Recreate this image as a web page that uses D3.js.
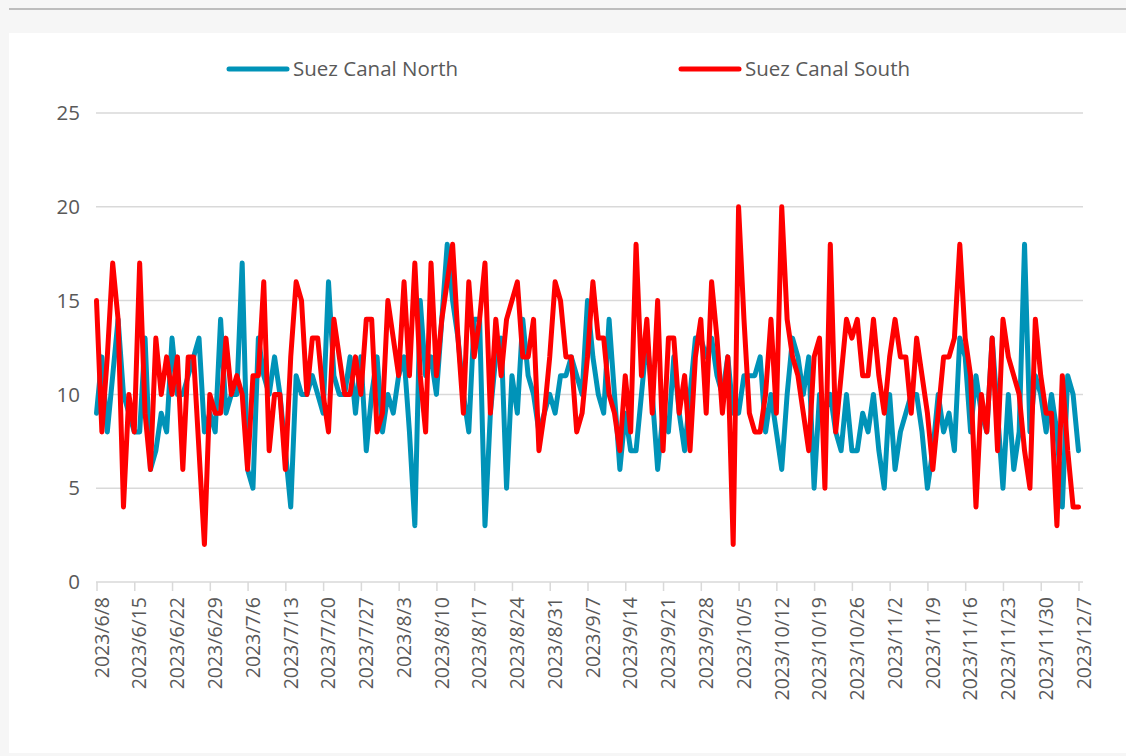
<!DOCTYPE html>
<html><head><meta charset="utf-8">
<script src="https://cdn.jsdelivr.net/npm/d3@7"></script>
<style>
html,body{margin:0;padding:0;background:#f6f6f6;}
svg{display:block;font-family:"Open Sans",sans-serif;}
</style></head>
<body><svg id="c" width="1126" height="756"></svg>
<script>
const startDate = "2023-06-08";
const endDate = "2023-12-07";
const seriesNames = ["Suez Canal North", "Suez Canal South"];
const north = [9,12,8,11,14,10,9,8,8,13,6,7,9,8,13,10,10,11,12,13,8,9,8,14,9,10,10,17,6,5,13,11,10,12,10,7,4,11,10,10,11,10,9,16,11,10,10,12,9,12,7,10,12,8,10,9,11,12,8,3,15,11,12,10,14,18,15,13,10,8,14,14,3,9,12,13,5,11,9,14,11,10,8,9,10,9,11,11,12,11,10,15,12,10,9,14,10,6,9,7,7,10,13,10,6,9,8,12,9,7,10,13,13,12,13,11,10,12,9,9,11,11,11,12,8,10,8,6,10,13,12,10,12,5,10,9,10,8,7,10,7,7,9,8,10,7,5,10,6,8,9,10,10,8,5,7,10,8,9,7,13,12,8,11,9,8,13,9,5,10,6,8,18,8,11,10,8,10,8,4,11,10,7];
const south = [15,8,12,17,14,4,10,8,17,9,6,13,10,12,10,12,6,12,12,7,2,10,9,9,13,10,11,10,6,11,11,16,7,10,10,6,12,16,15,10,13,13,10,8,14,12,10,10,12,10,14,14,8,9,15,13,11,16,11,17,11,8,17,11,14,16,18,13,9,16,12,14,17,9,14,11,14,15,16,12,12,14,7,9,12,16,15,12,12,8,9,12,16,13,13,10,9,7,11,8,18,11,14,9,15,7,13,13,9,11,7,12,14,9,16,13,9,12,2,20,14,9,8,8,10,14,9,20,14,12,11,9,7,12,13,5,18,8,11,14,13,14,11,11,14,11,9,12,14,12,12,9,13,11,9,6,9,12,12,13,18,13,11,4,10,8,13,7,14,12,11,10,7,5,14,11,9,9,3,11,7,4,4];
const yTicks = [0,5,10,15,20,25];
const colors = ["#0093b8", "#ff0000"];

const parse = d3.timeParse("%Y-%m-%d");
const t0 = parse(startDate), t1 = parse(endDate);
const dates = d3.timeDay.range(t0, d3.timeDay.offset(t1, 1));
const tickDates = d3.range(0, dates.length, 7).map(i => dates[i]);
const fmt = d3.timeFormat("%Y/%-m/%-d");

const svg = d3.select("#c");
svg.append("rect").attr("x", 9).attr("y", 8).attr("width", 1117).attr("height", 2).attr("fill", "#bdbdbd");
svg.append("rect").attr("x", 9).attr("y", 33).attr("width", 1117).attr("height", 720).attr("fill", "#ffffff");

const x = d3.scaleTime().domain([t0, t1]).range([96.5, 1078.5]);
const y = d3.scaleLinear().domain([0, 25]).range([582, 113]);

svg.append("g").selectAll("line").data(yTicks.filter(v => v > 0)).join("line")
  .attr("x1", 96).attr("x2", 1083)
  .attr("y1", d => y(d)).attr("y2", d => y(d))
  .attr("stroke", "#d9d9d9").attr("stroke-width", 1.5);

svg.append("g").selectAll("text").data(yTicks).join("text")
  .attr("x", 80).attr("y", d => y(d)).attr("dy", "0.35em")
  .attr("text-anchor", "end").attr("font-size", 20.5).attr("fill", "#595959")
  .text(d => d);

const xAxis = d3.axisBottom(x).tickValues(tickDates).tickSize(9).tickFormat(fmt);
const gx = svg.append("g").attr("transform", "translate(0,582)").call(xAxis);
gx.select(".domain").attr("stroke", "#d9d9d9").attr("stroke-width", 1.5).attr("d", "M96,0H1083");
gx.selectAll(".tick line").attr("stroke", "#d9d9d9").attr("stroke-width", 1.5);
gx.selectAll(".tick text")
  .attr("font-family", "'Open Sans',sans-serif").attr("font-size", 19.5).attr("fill", "#595959")
  .attr("text-anchor", "end").attr("transform", "rotate(-90)")
  .attr("x", -15).attr("y", 0).attr("dy", "0.6em");

const line = d3.line().x((d, i) => x(dates[i])).y(d => y(d));
[north, south].forEach((s, k) => {
  svg.append("path").datum(s).attr("d", line)
    .attr("fill", "none").attr("stroke", colors[k]).attr("stroke-width", 5)
    .attr("stroke-linejoin", "round").attr("stroke-linecap", "round");
});

const legX = [229, 681];
seriesNames.forEach((n, k) => {
  svg.append("line").attr("x1", legX[k]).attr("x2", legX[k] + 58).attr("y1", 69).attr("y2", 69)
    .attr("stroke", colors[k]).attr("stroke-width", 5).attr("stroke-linecap", "round");
  svg.append("text").attr("x", legX[k] + 64).attr("y", 69).attr("dy", "0.35em")
    .attr("font-size", 20.5).attr("fill", "#595959").text(n);
});
</script></body></html>
